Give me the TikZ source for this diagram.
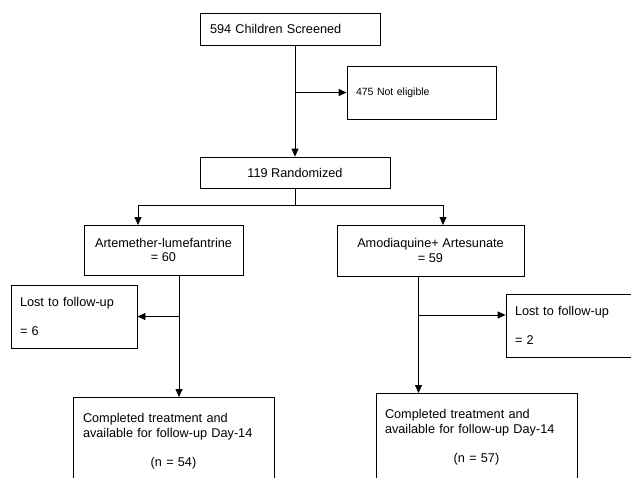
\documentclass[tikz,border=0pt]{standalone}
\usepackage{fontspec}
\setmainfont{Liberation Sans}
\usetikzlibrary{arrows.meta}
\usetikzlibrary{calc}

\begin{document}
\begin{tikzpicture}[x=1pt, y=-1pt, line width=0.8pt,
  every node/.style={font=\fontsize{12.7}{14.5}\selectfont},
  box/.style={draw, rectangle, inner sep=0pt},
  arr/.style={-{Triangle[length=8pt, width=7pt]}}]
        % Fix the page to the size of the figure
        \clip (0,0) rectangle (631,477);

        % Draw the screening boxes
        \node[box, minimum width=180pt, minimum height=32pt, text width=160pt, align=left] (screened) at (290,29) {594 Children Screened};
        \node[box, minimum width=149pt, minimum height=53pt, text width=131pt, align=left, font=\fontsize{10.5}{12}\selectfont] (noteligible) at (421.5,92.5) {475 Not eligible};
        \node[box, minimum width=190pt, minimum height=31pt] (randomized) at (295,172.5) {119 Randomized};

        % Draw the two arms
        \node[box, minimum width=159pt, minimum height=50pt, align=center] (arm1) at (163.5,250) {Artemether-lumefantrine\\= 60};
        \node[box, minimum width=187pt, minimum height=51pt, align=center] (arm2) at (430.5,250.5) {Amodiaquine+ Artesunate\\= 59};

        % Draw the losses and the completed boxes
        \node[box, minimum width=126pt, minimum height=63pt, text width=108pt, align=left] (lost1) at (74,316.5) {Lost to follow-up\\[14pt]= 6};
        \node[box, minimum width=144pt, minimum height=63pt, text width=126pt, align=left] (lost2) at (578,325.5) {Lost to follow-up\\[14pt]= 2};
        \node[box, anchor=north, inner xsep=10pt, inner ysep=16pt, text width=181pt, align=left] (done1) at (173.5,397) {Completed treatment and\\ available for follow-up Day-14\par\vspace{14.5pt}\centering (n = 54)\par\vspace{30pt}};
        \node[box, anchor=north, inner xsep=9pt, inner ysep=16pt, text width=183pt, align=left] (done2) at (476.5,393) {Completed treatment and\\ available for follow-up Day-14\par\vspace{14.5pt}\centering (n = 57)\par\vspace{30pt}};

        % Connectors from the top
        \draw[arr] (screened.south -| randomized.north) -- (randomized.north);
        \draw[arr] (noteligible.west -| randomized.north) -- (noteligible.west);

        % Split after randomization
        \coordinate (split) at ($(randomized.south)+(0,17)$);
        \coordinate (splitL) at (138,225);
        \coordinate (splitR) at (443,225);
        \draw (randomized.south) -- (split);
        \draw[arr] (split) -| (splitL);
        \draw[arr] (split) -| (splitR);

        % Stems below each arm
        \coordinate (stem1) at (179,275);
        \coordinate (stem2) at (418.5,276);
        \draw[arr] (stem1) -- (stem1 |- done1.north);
        \draw[arr] (stem1 |- lost1.east) -- (lost1.east);
        \draw[arr] (stem2) -- (stem2 |- done2.north);
        \coordinate (branch2) at (418.5,315);
        \draw[arr] (branch2) -- (branch2 -| lost2.west);
\end{tikzpicture}
\end{document}
